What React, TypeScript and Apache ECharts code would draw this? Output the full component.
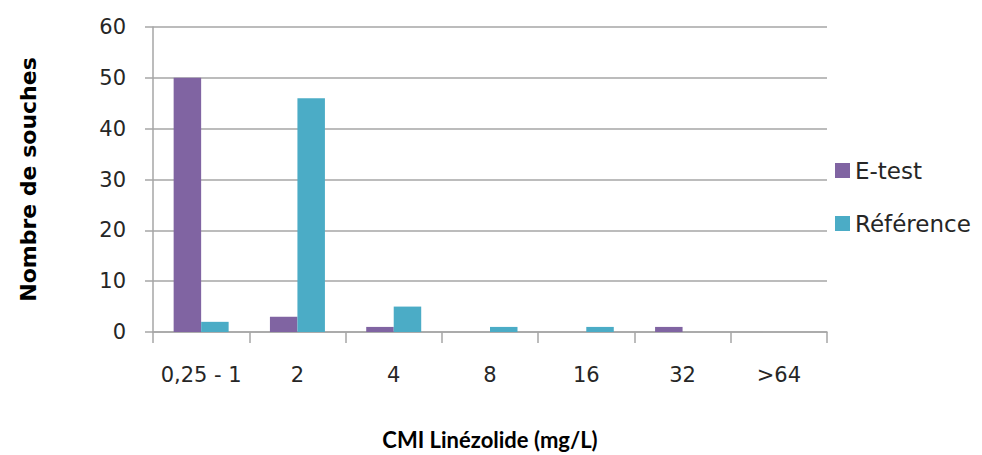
import React, { useEffect, useRef } from "react";
import * as echarts from "echarts";

const categories = ["0,25 - 1", "2", "4", "8", "16", "32", ">64"];
const etestValues = [50, 3, 1, 0, 0, 1, 0];
const referenceValues = [2, 46, 5, 1, 1, 0, 0];
const seriesNames = ["E-test", "Référence"];
const xAxisTitle = "CMI Linézolide (mg/L)";
const yAxisTitle = "Nombre de souches";

const FONT = "DejaVu Sans";

export default function App() {
  const ref = useRef<HTMLDivElement>(null);
  useEffect(() => {
    if (!ref.current) return;
    const chart = echarts.init(ref.current, undefined, { renderer: "svg" });
    chart.setOption({
      animation: false,
      backgroundColor: "#ffffff",
      textStyle: { fontFamily: FONT },
      grid: { left: 153, right: 155, top: 27, bottom: 122 },
      legend: {
        orient: "vertical",
        left: 830,
        top: 154,
        itemWidth: 15,
        itemHeight: 15,
        itemGap: 30,
        icon: "rect",
        textStyle: { fontFamily: FONT, fontSize: 23, color: "#262626" },
        data: seriesNames,
      },
      xAxis: {
        type: "category",
        data: categories,
        name: xAxisTitle,
        nameLocation: "middle",
        nameGap: 96,
        nameTextStyle: { fontFamily: "Lato", fontSize: 22, fontWeight: "bold", color: "#000" },
        axisLine: { lineStyle: { color: "#a6a6a6", width: 1.5 } },
        axisTick: { show: true, interval: 0, length: 11, lineStyle: { color: "#a6a6a6", width: 1.5 } },
        axisLabel: { interval: 0, fontFamily: FONT, fontSize: 21, color: "#262626", margin: 32 },
      },
      yAxis: {
        type: "value",
        min: 0,
        max: 60,
        interval: 10,
        name: yAxisTitle,
        nameLocation: "middle",
        nameGap: 114,
        nameTextStyle: { fontFamily: FONT, fontSize: 22, fontWeight: "bold", color: "#000" },
        axisLine: { show: true, lineStyle: { color: "#a6a6a6", width: 1.5 } },
        axisTick: { show: true, length: 8, lineStyle: { color: "#a6a6a6", width: 1.5 } },
        axisLabel: { fontFamily: FONT, fontSize: 21, color: "#262626", margin: 27 },
        splitLine: { lineStyle: { color: "#a6a6a6", width: 1.5 } },
      },
      series: [
        {
          name: seriesNames[0],
          type: "bar",
          data: etestValues,
          barWidth: 27.5,
          barGap: "0%",
          itemStyle: { color: "#8064A2" },
        },
        {
          name: seriesNames[1],
          type: "bar",
          data: referenceValues,
          barWidth: 27.5,
          barGap: "0%",
          itemStyle: { color: "#4BACC6" },
        },
      ],
    });
    return () => chart.dispose();
  }, []);
  return <div ref={ref} style={{ width: 982, height: 455, position: "absolute", left: 0, top: 0 }} />;
}
